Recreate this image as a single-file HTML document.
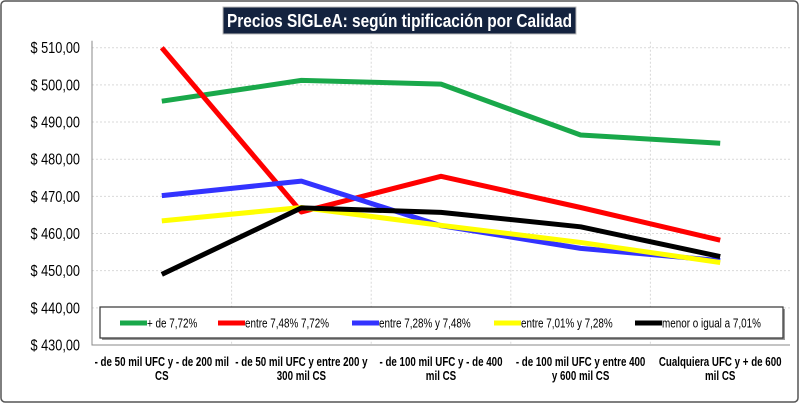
<!DOCTYPE html>
<html><head><meta charset="utf-8"><style>
body{margin:0;background:#fff}
svg text{font-family:"Liberation Sans",sans-serif}
</style></head><body>
<svg width="800" height="404" xmlns="http://www.w3.org/2000/svg">
<rect x="1" y="1" width="797" height="401" rx="4" fill="#fff" stroke="#555" stroke-width="1.5"/>
<rect x="223" y="7" width="353" height="27" fill="#14233f" stroke="#bbb"/>
<text id="title" x="227" y="27" fill="#fff" font-size="18" font-weight="bold" textLength="345" lengthAdjust="spacingAndGlyphs">Precios SIGLeA: según tipificación por Calidad</text>
<g id="grid"></g>
<g id="axes"></g>
<g id="series"></g>
<g id="legend"></g>
</svg>
<script>
const categories=["- de 50 mil UFC y - de 200 mil|CS","- de 50 mil UFC y entre  200 y|300 mil CS","- de 100 mil UFC y - de 400|mil CS","- de 100 mil UFC y entre  400|y 600 mil CS","Cualquiera UFC y + de 600|mil CS"];
const seriesNames=["+ de 7,72%","entre 7,48% 7,72%","entre 7,28% y 7,48%","entre 7,01% y 7,28%","menor o igual a 7,01%"];
const green=[495.6,501.2,500.2,486.5,484.3];
const red=[510,465.8,475.4,467,458.2];
const blue=[470.2,474.1,462.1,456,452.7];
const yellow=[463.4,467,462.2,457.6,452.2];
const black=[449,466.9,465.7,461.8,453.8];
const yTicks=[430,440,450,460,470,480,490,500,510];
const colors=["#19a84a","#ff0000","#3333ff","#ffff00","#000000"];
const NS="http://www.w3.org/2000/svg";
const L=92,R=790,T=47.7,B=345,ymin=430,ymax=510;
const yS=v=>B-(v-ymin)/(ymax-ymin)*(B-T);
const bw=(R-L)/categories.length;
const xS=i=>L+bw*(i+0.5);
function mk(p,tag,attrs){const e=document.createElementNS(NS,tag);for(const k in attrs)e.setAttribute(k,attrs[k]);document.getElementById(p).appendChild(e);return e;}
function squeeze(t,f){const w=t.getComputedTextLength();t.setAttribute('textLength',(w*f).toFixed(1));t.setAttribute('lengthAdjust','spacingAndGlyphs');}
yTicks.forEach(v=>{
 if(v>ymin){const g=mk('grid','line',{x1:L,x2:R,y1:yS(v),y2:yS(v),stroke:'#d9d9d9','stroke-dasharray':'2,2'});
 
 }
 const t=mk('axes','text',{x:80,y:yS(v)+5.5,'text-anchor':'end','font-size':'15.5'});t.textContent='$ '+v.toFixed(2).replace('.',',');
 
 
 squeeze(t,0.82);
});
for(let i=1;i<categories.length;i++){const g=mk('grid','line',{x1:L+bw*i,x2:L+bw*i,y1:T-6,y2:B,stroke:'#d9d9d9','stroke-dasharray':'2,2'});
 
 }
const ax=mk('axes','path',{d:`M${L},${T-7}V${B}H${R}`,fill:'none',stroke:'#888'});


categories.forEach((c,i)=>{c.split('|').forEach((ln,j)=>{
 const t=mk('axes','text',{x:xS(i),y:366+j*14,'text-anchor':'middle','font-size':'13','font-weight':'bold'});t.textContent=ln;
 
 
 squeeze(t,0.75);});});
[green,red,blue,yellow,black].forEach((s,k)=>{
 const p=mk('series','polyline',{points:s.map((v,i)=>xS(i)+','+yS(v)).join(' '),fill:'none',stroke:colors[k],'stroke-width':5,'stroke-linejoin':'round'});
 
 
});
const sh=mk('legend','rect',{x:102,y:309,width:683,height:31,fill:'#999'});


const lb=mk('legend','rect',{x:100,y:307,width:683,height:31,fill:'#fff',stroke:'#333','stroke-width':1.2});


const lx=[120,218,352,494,635];
seriesNames.forEach((n,k)=>{
 const l=mk('legend','line',{x1:lx[k],x2:lx[k]+27,y1:323,y2:323,stroke:colors[k],'stroke-width':5});
 
 
 const t=mk('legend','text',{x:lx[k]+27,y:327.5,'font-size':'13'});t.textContent=n;
 
 
 squeeze(t,0.76);
});
</script>
</body></html>
